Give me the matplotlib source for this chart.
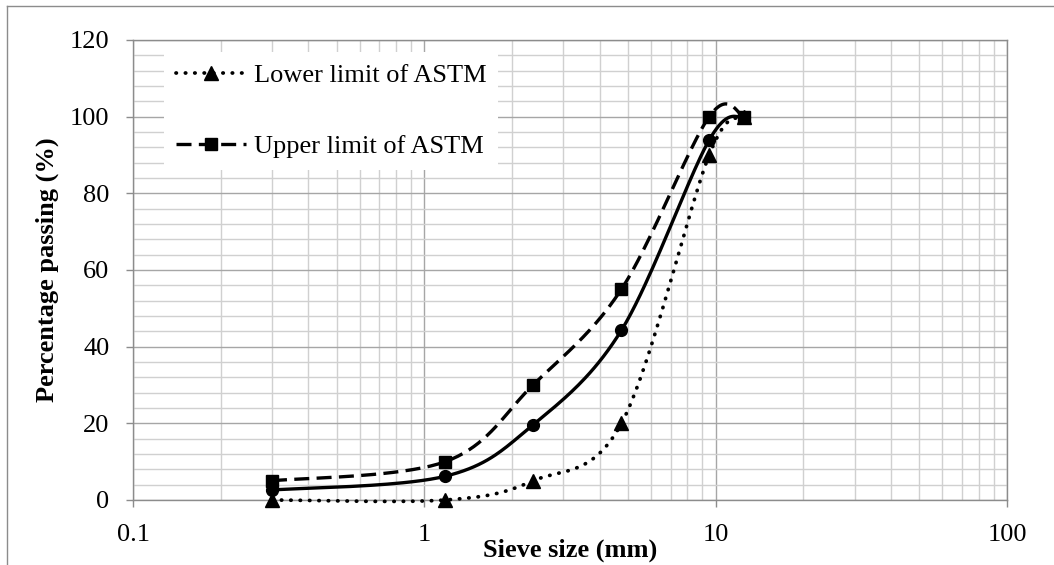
import numpy as np
import matplotlib
matplotlib.use('Agg')
import matplotlib.pyplot as plt
from matplotlib.lines import Line2D

plt.rcParams['font.family'] = ['Liberation Serif', 'DejaVu Serif']

sieve = [0.3, 1.18, 2.36, 4.75, 9.5, 12.5]
lower = [0, 0, 5, 20, 90, 100]
upper = [5, 10, 30, 55, 100, 100]
sample = [2.6, 6.2, 19.6, 44.3, 93.9, 100]

W, H = 1054, 565
fig = plt.figure(figsize=(W / 100, H / 100), dpi=100)
ax = fig.add_axes([133 / W, 65 / H, 874 / W, 460 / H])

# plot area in pixels, used for excel-like smoothing
px_dec = 874 / 3
px_unit = 460 / 120


def smooth(xs, ys, n=40):
    u = np.log10(xs) * px_dec
    v = np.array(ys, dtype=float) * px_unit
    pts = np.column_stack([u, v])
    out = []
    for i in range(len(pts) - 1):
        p0 = pts[max(i - 1, 0)]
        p1 = pts[i]
        p2 = pts[i + 1]
        p3 = pts[min(i + 2, len(pts) - 1)]
        c1 = p1 + (p2 - p0) / 6
        c2 = p2 - (p3 - p1) / 6
        t = np.linspace(0, 1, n)[:, None]
        seg = ((1 - t) ** 3) * p1 + 3 * ((1 - t) ** 2) * t * c1 + 3 * (1 - t) * t ** 2 * c2 + t ** 3 * p2
        out.append(seg)
    out = np.vstack(out)
    return 10 ** (out[:, 0] / px_dec), out[:, 1] / px_unit


dot_style = (0, (0.1, 2.4))
dash_style = (0, (4.5, 2.2))

sx, sy = smooth(sieve, lower)
ax.plot(sx, sy, color='black', lw=2.7, linestyle=dot_style,
        dash_capstyle='round', zorder=3, clip_on=False)
ax.plot(sieve, lower, linestyle='none', marker='^', ms=10, color='black', zorder=4, clip_on=False)

sx, sy = smooth(sieve, upper)
ax.plot(sx, sy, color='black', lw=2.4, linestyle=dash_style, zorder=3)
ax.plot(sieve, upper, linestyle='none', marker='s', ms=8.5, color='black', zorder=4, clip_on=False)

sx, sy = smooth(sieve, sample)
ax.plot(sx, sy, color='black', lw=2.4, zorder=3)
ax.plot(sieve, sample, linestyle='none', marker='o', ms=8.5, color='black', zorder=4, clip_on=False)

ax.set_xscale('log')
ax.set_xlim(0.1, 100)
ax.set_ylim(0, 120)
ax.set_yticks(range(0, 121, 20))
ax.set_yticks(range(0, 121, 4), minor=True)
ax.set_xticks([0.1, 1, 10, 100])
ax.set_xticklabels(['0.1', '1', '10', '100'])
ax.xaxis.set_minor_locator(matplotlib.ticker.LogLocator(base=10, subs=range(2, 10)))
ax.xaxis.set_minor_formatter(matplotlib.ticker.NullFormatter())

ax.grid(which='major', color='#a6a6a6', lw=1.0)
ax.grid(which='minor', color='#d0d0d0', lw=1.0)
ax.set_axisbelow(True)
for s in ax.spines.values():
    s.set_color('#8c8c8c')
    s.set_linewidth(1.0)
ax.tick_params(which='major', length=5, width=1.0, color='#8c8c8c', labelsize=19, pad=12)
ax.tick_params(axis='x', which='major', pad=12)
ax.tick_params(which='minor', length=0)

ax.set_xlabel('Sieve size (mm)', fontsize=19, fontweight='bold', labelpad=-5)
ax.set_ylabel('Percentage passing (%)', fontsize=19, fontweight='bold', labelpad=8)

handles = [
    Line2D([], [], color='black', lw=2.7, linestyle=dot_style, dash_capstyle='round',
           marker='^', ms=10),
    Line2D([], [], color='black', lw=2.4, linestyle=dash_style, marker='s', ms=8.5),
]
leg = ax.legend(handles, ['Lower limit of ASTM', 'Upper limit of ASTM'],
                loc='upper left', bbox_to_anchor=(31 / 874, 448 / 460),
                borderaxespad=0, fontsize=19, frameon=True, fancybox=False,
                handlelength=2.65, handletextpad=0.3, labelspacing=1.8,
                borderpad=0.45)
leg.get_frame().set_facecolor('white')
leg.get_frame().set_edgecolor('none')
leg.get_frame().set_alpha(1)

# outer chart frame
fig.add_artist(Line2D([7 / W, 7 / W], [0, 1 - 6 / H], color='#8c8c8c', lw=1.0))
fig.add_artist(Line2D([7 / W, 1], [1 - 6 / H, 1 - 6 / H], color='#8c8c8c', lw=1.0))

fig.savefig('out.png', dpi=100)
